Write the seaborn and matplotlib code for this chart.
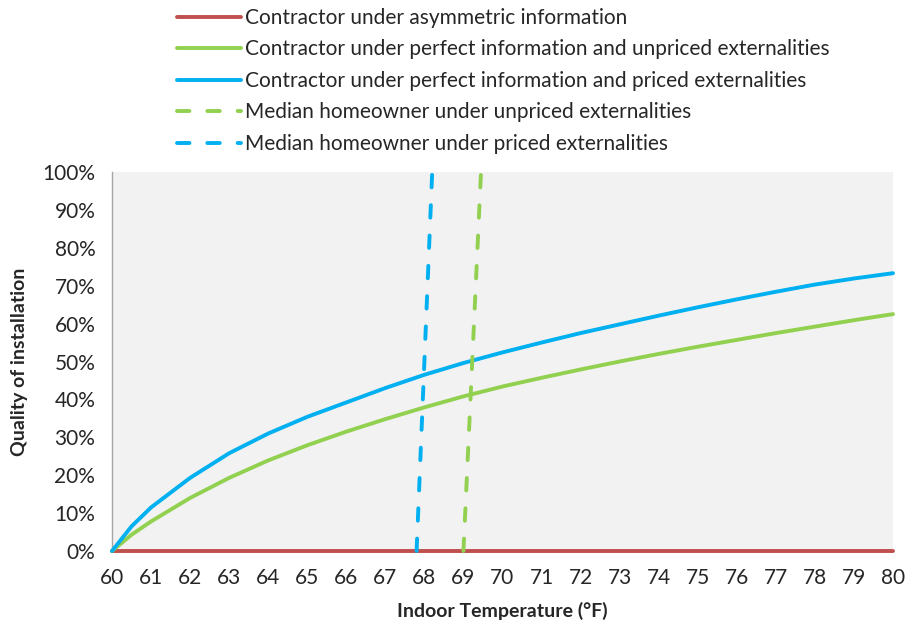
import numpy as np
import pandas as pd
import seaborn as sns
import matplotlib.pyplot as plt
from matplotlib.ticker import PercentFormatter

# Indoor temperature grid (°F)
temps = [60, 60.5] + list(range(61, 81))

# Contractor curves (quality of installation, fraction)
asymmetric = [0.0] * 22
unpriced = [0.000, 0.043, 0.078, 0.140, 0.193, 0.239, 0.279, 0.315, 0.348, 0.379, 0.408, 0.434,
            0.457, 0.479, 0.500, 0.520, 0.539, 0.557, 0.575, 0.592, 0.609, 0.625]
priced = [0.000, 0.065, 0.115, 0.193, 0.258, 0.310, 0.354, 0.392, 0.430, 0.465, 0.496, 0.524,
          0.550, 0.575, 0.598, 0.621, 0.643, 0.664, 0.684, 0.703, 0.719, 0.733]

# Median homeowner lines (nearly vertical)
home_unpriced_x = [69.0, 69.45]
home_priced_x = [67.8, 68.2]
home_y = [0.0, 1.0]

labels = ['Contractor under asymmetric information',
          'Contractor under perfect information and unpriced externalities',
          'Contractor under perfect information and priced externalities',
          'Median homeowner under unpriced externalities',
          'Median homeowner under priced externalities']
colors = ['#C0504D', '#92D050', '#00B0F0', '#92D050', '#00B0F0']

frames = [
    pd.DataFrame({'temp': temps, 'quality': asymmetric, 'series': labels[0]}),
    pd.DataFrame({'temp': temps, 'quality': unpriced, 'series': labels[1]}),
    pd.DataFrame({'temp': temps, 'quality': priced, 'series': labels[2]}),
    pd.DataFrame({'temp': home_unpriced_x, 'quality': home_y, 'series': labels[3]}),
    pd.DataFrame({'temp': home_priced_x, 'quality': home_y, 'series': labels[4]}),
]
df = pd.concat(frames, ignore_index=True)

sns.set_style('white')
plt.rcParams['font.family'] = ['Lato', 'DejaVu Sans']

fig = plt.figure(figsize=(9.09, 6.33), dpi=100)
ax = fig.add_axes([0.1232, 0.1295, 0.8592, 0.5988])
ax.set_facecolor('#F2F2F2')

for lab, col in zip(labels, colors):
    sub = df[df['series'] == lab]
    if lab.startswith('Median'):
        sns.lineplot(data=sub, x='temp', y='quality', ax=ax, color=col, lw=2.8,
                     label=lab, sort=False, estimator=None,
                     linestyle=(0, (3.2, 4.6)), dash_capstyle='round',
                     clip_on=False, zorder=3)
    else:
        sns.lineplot(data=sub, x='temp', y='quality', ax=ax, color=col, lw=2.8,
                     label=lab, sort=False, estimator=None,
                     solid_capstyle='round', clip_on=False, zorder=3)

ax.set_xlim(60, 80)
ax.set_ylim(0, 1)
ax.set_xticks(range(60, 81))
ax.set_yticks(np.arange(0, 1.01, 0.1))
ax.yaxis.set_major_formatter(PercentFormatter(1.0, decimals=0))
ax.tick_params(axis='both', labelsize=15, colors='#262626', length=5, width=1,
               direction='out', color='#A6A6A6')
ax.tick_params(axis='x', pad=7)
ax.tick_params(axis='y', pad=7)
for side in ['top', 'right']:
    ax.spines[side].set_visible(False)
for side in ['left', 'bottom']:
    ax.spines[side].set_color('#A6A6A6')
    ax.spines[side].set_linewidth(1)

ax.set_xlabel('Indoor Temperature (°F)', fontsize=14, fontweight='bold', labelpad=10)
ax.set_ylabel('Quality of installation', fontsize=14, fontweight='bold', labelpad=10)

leg = ax.legend(loc='upper left', bbox_to_anchor=(0.19, 0.994), bbox_transform=fig.transFigure,
                frameon=False, fontsize=15, handlelength=3.1, handletextpad=0.15,
                labelspacing=0.55, borderaxespad=0.0, borderpad=0.2)
for t in leg.get_texts():
    t.set_color('#262626')

fig.savefig('out.png', dpi=100)
